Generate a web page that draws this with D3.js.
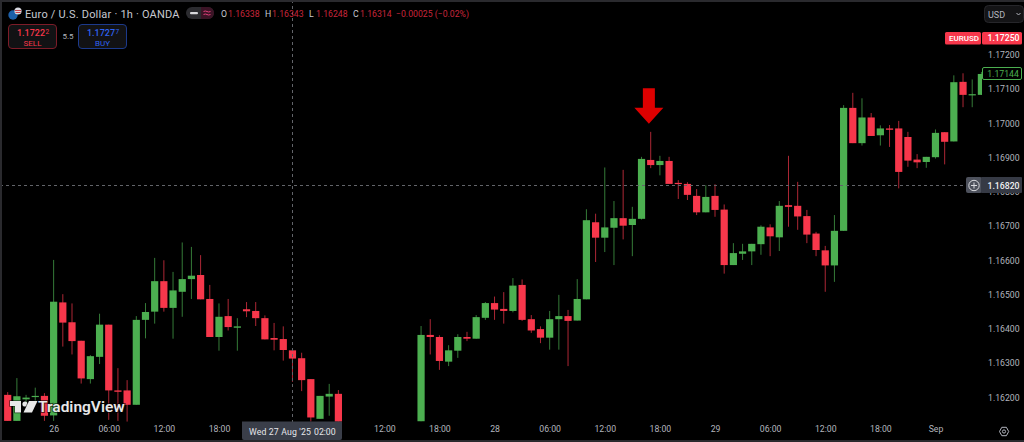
<!DOCTYPE html>
<html><head><meta charset="utf-8">
<script src="https://cdn.jsdelivr.net/npm/d3@7/dist/d3.min.js"></script>
<style>html,body{margin:0;padding:0;background:#000;overflow:hidden}svg{display:block}text{font-family:Roboto,"Noto Sans",sans-serif}</style>
</head><body><svg id="c" width="1024" height="442"></svg>
<script>
const open=[1.16207,1.16131,1.16194,1.16201,1.16204,1.16147,1.16477,1.16419,1.16365,1.16253,1.16318,1.16412,1.16220,1.16220,1.16178,1.16426,1.16450,1.16539,1.16461,1.16508,1.16545,1.16557,1.16487,1.16376,1.16437,1.16403,1.16457,1.16452,1.16431,1.16373,1.16370,1.16337,1.16314,1.16253,1.16137,1.16202,1.16210,null,null,null,null,null,null,null,null,1.16130,1.16382,1.16376,1.16304,1.16336,1.16376,1.16371,1.16432,1.16475,1.16458,1.16452,1.16528,1.16428,1.16399,1.16374,1.16428,1.16437,1.16424,1.16486,1.16711,1.16666,1.16695,1.16723,1.16703,1.16721,1.16893,1.16878,1.16890,1.16826,1.16823,1.16788,1.16740,1.16788,1.16748,1.16586,1.16619,1.16626,1.16647,1.16696,1.16667,1.16761,1.16759,1.16729,1.16678,1.16629,1.16585,1.16686,1.17045,1.16942,1.17017,1.16965,1.16985,1.16985,1.16960,1.16894,1.16887,1.16901,1.16974,1.16947,1.17121,1.17083,1.17083];
const high=[1.16215,1.16256,1.16207,1.16228,1.16212,1.16601,1.16501,1.16474,1.16365,1.16323,1.16444,1.16412,1.16285,1.16250,1.16437,1.16475,1.16607,1.16600,1.16566,1.16652,1.16639,1.16615,1.16528,1.16474,1.16487,1.16431,1.16478,1.16478,1.16439,1.16417,1.16407,1.16337,1.16330,1.16253,1.16204,1.16239,1.16221,null,null,null,null,null,null,null,null,1.16408,1.16428,1.16381,1.16352,1.16384,1.16391,1.16440,1.16478,1.16494,1.16507,1.16548,1.16544,1.16440,1.16407,1.16452,1.16499,1.16455,1.16545,1.16749,1.16736,1.16871,1.16773,1.16864,1.16756,1.16902,1.16975,1.16905,1.16902,1.16834,1.16828,1.16808,1.16819,1.16822,1.16763,1.16650,1.16648,1.16648,1.16702,1.16705,1.16773,1.16905,1.16829,1.16747,1.16683,1.16642,1.16732,1.17053,1.17089,1.17073,1.17030,1.16994,1.16995,1.17007,1.16975,1.16910,1.16902,1.16982,1.16974,1.17140,1.17146,1.17128,1.17150];
const low=[1.16131,1.16131,1.16186,1.16183,1.16131,1.16131,1.16348,1.16325,1.16240,1.16240,1.16297,1.16134,1.16131,1.16129,1.16178,1.16372,1.16415,1.16450,1.16371,1.16435,1.16487,1.16486,1.16376,1.16336,1.16395,1.16336,1.16434,1.16408,1.16369,1.16337,1.16307,1.16245,1.16218,1.16129,1.16137,1.16146,1.16129,null,null,null,null,null,null,null,null,1.16130,1.16325,1.16280,1.16291,1.16315,1.16364,1.16371,1.16426,1.16426,1.16415,1.16448,1.16423,1.16388,1.16358,1.16339,1.16339,1.16291,1.16424,1.16486,1.16595,1.16624,1.16586,1.16661,1.16612,1.16719,1.16869,1.16848,1.16823,1.16779,1.16776,1.16732,1.16740,1.16727,1.16561,1.16586,1.16601,1.16586,1.16616,1.16612,1.16627,1.16698,1.16689,1.16650,1.16612,1.16508,1.16537,1.16686,1.16942,1.16935,1.16963,1.16935,1.16931,1.16810,1.16873,1.16869,1.16870,1.16897,1.16880,1.16947,1.17047,1.17047,1.17083];
const close=[1.16131,1.16203,1.16199,1.16204,1.16146,1.16479,1.16418,1.16364,1.16255,1.16320,1.16412,1.16220,1.16216,1.16178,1.16426,1.16449,1.16539,1.16461,1.16512,1.16545,1.16555,1.16486,1.16376,1.16435,1.16405,1.16407,1.16451,1.16431,1.16369,1.16368,1.16338,1.16313,1.16250,1.16141,1.16204,1.16210,1.16129,null,null,null,null,null,null,null,null,1.16382,1.16376,1.16306,1.16337,1.16376,1.16371,1.16434,1.16475,1.16456,1.16452,1.16526,1.16426,1.16395,1.16374,1.16428,1.16437,1.16423,1.16487,1.16717,1.16666,1.16696,1.16723,1.16701,1.16721,1.16896,1.16878,1.16890,1.16823,1.16823,1.16791,1.16740,1.16785,1.16747,1.16586,1.16621,1.16626,1.16648,1.16698,1.16670,1.16759,1.16756,1.16728,1.16675,1.16630,1.16585,1.16686,1.17045,1.16942,1.17017,1.16963,1.16985,1.16981,1.16858,1.16891,1.16886,1.16902,1.16972,1.16946,1.17120,1.17083,1.17085,1.17144];
const priceTicks=[1.162,1.163,1.164,1.165,1.166,1.167,1.168,1.169,1.17,1.171,1.172];
const timeSlots=[5,11,17,23,41,47,53,59,65,71,77,83,89,95,101];
const timeLabels=["26","06:00","12:00","18:00","12:00","18:00","28","06:00","12:00","18:00","29","06:00","12:00","18:00","Sep"];
const ohlcLabels=["O","H","L","C"];
const ohlcValues=["1.16338","1.16343","1.16248","1.16314"];
const ohlcChange="−0.00025 (−0.02%)";
const crosshairSlot=31, crosshairPrice=1.1682, lastPrice=1.17144, symbolPrice=1.1725, arrowSlot=69.8;

const UP="#4caf50",DOWN="#f7374b",AX="#b2b5be",FS=8.7;
const svg=d3.select("#c");
const x=d3.scaleLinear().domain([0,106]).range([7.7,981.4]);
const y=d3.scaleLinear().domain([1.162,1.172]).range([397.26,54.8]);
const defs=svg.append("defs");
defs.append("clipPath").attr("id","plot").append("rect").attr("x",2).attr("y",2).attr("width",980).attr("height",420);
svg.append("rect").attr("width",1024).attr("height",442).attr("fill","#000");

// candles
const idx=d3.range(open.length).filter(i=>open[i]!=null);
const g=svg.append("g").attr("clip-path","url(#plot)");
g.selectAll("line.w").data(idx).join("line").attr("class","w")
 .attr("x1",i=>x(i)).attr("x2",i=>x(i)).attr("y1",i=>y(high[i])).attr("y2",i=>y(low[i]))
 .attr("stroke",i=>close[i]>=open[i]?UP:DOWN).attr("stroke-width",1).attr("stroke-opacity",0.7);
g.selectAll("rect.b").data(idx).join("rect").attr("class","b")
 .attr("x",i=>x(i)-3.6).attr("width",7.2)
 .attr("y",i=>y(Math.max(open[i],close[i])))
 .attr("height",i=>Math.max(1.2,Math.abs(y(open[i])-y(close[i]))))
 .attr("fill",i=>close[i]>=open[i]?UP:DOWN);

// watermark
const wm=svg.append("g").attr("transform","translate(10,400)");
wm.append("path").attr("d","M0 1H11V12.5H5V6H0Z").attr("fill","#e8e8e8").attr("stroke","#000").attr("stroke-opacity",.6).attr("stroke-width",1.5).attr("paint-order","stroke");
wm.append("circle").attr("cx",15).attr("cy",4).attr("r",2.6).attr("fill","#e8e8e8");
wm.append("path").attr("d","M19 1H27.5L22 12.5H13.5Z").attr("fill","#e8e8e8").attr("stroke","#000").attr("stroke-opacity",.6).attr("stroke-width",1.5).attr("paint-order","stroke");
wm.append("text").attr("x",28).attr("y",12).attr("font-size",15.5).attr("font-weight",600).attr("fill","#e8e8e8")
 .attr("stroke","#000").attr("stroke-opacity",.6).attr("stroke-width",2).attr("paint-order","stroke").text("TradingView");

// arrow annotation anchored on the price scale
const ax=x(arrowSlot), at=y(1.16975)-8;
svg.append("path").attr("fill","#dd0000").attr("d",d3.line()([[ax-6,at-35.5],[ax+6,at-35.5],[ax+6,at-16],[ax+14.5,at-16],[ax,at],[ax-14.5,at-16],[ax-6,at-16]])+"Z");

// crosshair
const cx=Math.round(x(crosshairSlot))+.5-.5+.0, cy=Math.round(y(crosshairPrice))+.5;
svg.append("line").attr("x1",cx+.5).attr("x2",cx+.5).attr("y1",0).attr("y2",422).attr("stroke","#626469").attr("stroke-dasharray","3 3");
svg.append("line").attr("x1",0).attr("x2",966).attr("y1",cy).attr("y2",cy).attr("stroke","#626469").attr("stroke-dasharray","3 3");

// axes
const yAxis=d3.axisRight(y).tickValues(priceTicks).tickSize(0).tickPadding(0).tickFormat(d3.format(".5f"));
const ya=svg.append("g").attr("transform","translate(988,0)").call(yAxis);
ya.select(".domain").remove();
ya.selectAll("text").attr("fill",AX).attr("font-size",FS).style("font-family","Roboto");
const xAxis=d3.axisBottom(x).tickValues(timeSlots).tickSize(0).tickPadding(0).tickFormat(d=>timeLabels[timeSlots.indexOf(d)]);
const xa=svg.append("g").attr("transform","translate(0,426)").call(xAxis);
xa.select(".domain").remove();
xa.selectAll("text").attr("fill",AX).attr("font-size",FS).style("font-family","Roboto");

// frame
svg.append("rect").attr("x",0).attr("y",0).attr("width",2).attr("height",442).attr("fill","#2a2a2e");
svg.append("rect").attr("x",0).attr("y",0).attr("width",1024).attr("height",2).attr("fill","#2a2a2e");
svg.append("rect").attr("x",0).attr("y",440).attr("width",1024).attr("height",2).attr("fill","#2a2a2e");

function txt(xp,yp,s,fill,size,anchor,weight){return svg.append("text").attr("x",xp).attr("y",yp).attr("fill",fill).attr("font-size",size).attr("text-anchor",anchor||"start").attr("font-weight",weight||400).text(s);}

// settings icon in the axis corner
svg.append("path").attr("d","M999.5 431.5l2.3-4.2h4.6l2.3 4.2l-2.3 4.2h-4.6Z").attr("fill","none").attr("stroke","#b2b5be");
svg.append("circle").attr("cx",1004).attr("cy",431.5).attr("r",1.6).attr("fill","none").attr("stroke","#b2b5be");

// crosshair date pill
svg.append("path").attr("d","M242 421.5H342V438a2 2 0 0 1-2 2H244a2 2 0 0 1-2-2Z").attr("fill","#3a3e49");
txt(249,434.5,"Wed 27 Aug '25","#e6e7ea",FS).attr("letter-spacing",".15");
txt(314,434.5,"02:00","#e6e7ea",FS);

// crosshair price pill
const py=Math.round(y(crosshairPrice));
svg.append("rect").attr("x",966).attr("y",py-8).attr("width",16).attr("height",16).attr("rx",2).attr("fill","#4d515c");
svg.append("rect").attr("x",981).attr("y",py-8).attr("width",41).attr("height",16).attr("rx",1).attr("fill","#363a45");
svg.append("circle").attr("cx",974).attr("cy",py+.5).attr("r",5.2).attr("fill","none").attr("stroke","#d8d9dd");
svg.append("path").attr("d",`M971 ${py+.5}H977M974 ${py-2.5}V${py+3.5}`).attr("stroke","#d8d9dd");
txt(1003.5,py+3.5,d3.format(".5f")(crosshairPrice),"#f0f0f2",FS,"middle",500);

// symbol price
const sy=Math.round(y(symbolPrice));
svg.append("rect").attr("x",945).attr("y",sy-6).attr("width",36).attr("height",12.5).attr("rx",1.5).attr("fill",DOWN);
svg.append("rect").attr("x",982).attr("y",sy-6).attr("width",40).attr("height",12.5).attr("rx",1.5).attr("fill",DOWN);
txt(964,sy+3.2,"EURUSD","#fff",8,"middle",500);
txt(1003.5,sy+3.2,d3.format(".5f")(symbolPrice),"#fff",FS,"middle",500);

// last price
const ly=Math.round(y(lastPrice));
svg.append("rect").attr("x",982.5).attr("y",ly-6.5).attr("width",39).attr("height",12).attr("rx",1.5).attr("fill","#000").attr("stroke",UP);
txt(1003,ly+3,d3.format(".5f")(lastPrice),UP,FS,"middle");

// currency button
svg.append("rect").attr("x",984.5).attr("y",5.5).attr("width",39).attr("height",17).attr("rx",4).attr("fill","#141416").attr("stroke","#26262a");
txt(988,17.5,"USD","#b2b5be",9);
svg.append("path").attr("d","M1016.5 13l2 2l2-2").attr("fill","none").attr("stroke","#b2b5be");

// header
svg.append("circle").attr("cx",13).attr("cy",15).attr("r",4.7).attr("fill","#1d5fa8");
svg.append("circle").attr("cx",18).attr("cy",11).attr("r",3.6).attr("fill","#d8d8e0");
svg.append("path").attr("d","M15 10.5h6M15.5 12.5h5").attr("stroke","#c8404a").attr("stroke-width",1);
txt(25,18,"Euro / U.S. Dollar · 1h · OANDA","#c7c9d0",11).attr("letter-spacing",".2");
svg.append("rect").attr("x",186).attr("y",7).attr("width",28).attr("height",12).attr("rx",6).attr("fill","#2c2c30");
svg.append("path").attr("d","M201 7h7a6 6 0 0 1 0 12h-7Z").attr("fill","#3c1426");
svg.append("rect").attr("x",190).attr("y",12).attr("width",8).attr("height",2.2).attr("rx",1).attr("fill","#d8d8dc");
svg.append("path").attr("d","M203.5 11.5q2-1 3.5 0t3.5 0M203.5 14.5q2-1 3.5 0t3.5 0").attr("fill","none").attr("stroke","#e0407a");
const RV="#c9263b";
[221,265,309,353].forEach((xp,i)=>{
  txt(xp,17,ohlcLabels[i],"#c7c9d0",FS);
  txt(xp+7,17,ohlcValues[i],RV,FS);
});
txt(396,17,ohlcChange,RV,FS);

// sell / buy
svg.append("rect").attr("x",8.5).attr("y",24.5).attr("width",48).attr("height",24).attr("rx",3.5).attr("fill","#121214").attr("stroke","#7c1c28");
txt(17,35.5,"1.1722",DOWN,9,"start",500);
txt(45.5,33.5,"2",DOWN,6.5);
txt(32.5,46,"SELL",DOWN,8,"middle");
txt(68,38.5,"5.5","#b2b5be",8,"middle");
svg.append("rect").attr("x",78.5).attr("y",24.5).attr("width",48).attr("height",24).attr("rx",3.5).attr("fill","#121214").attr("stroke","#1c3a8c");
txt(87,35.5,"1.1727","#2f62f0",9,"start",500);
txt(115.5,33.5,"7","#2f62f0",6.5);
txt(102.5,46,"BUY","#2f62f0",8,"middle");
</script></body></html>
